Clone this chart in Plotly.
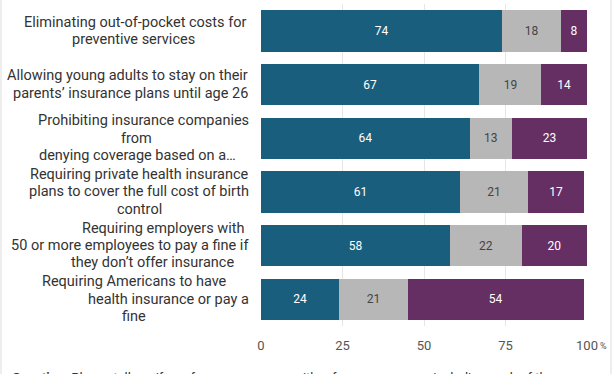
import plotly.graph_objects as go

categories = [
    "Eliminating out-of-pocket costs for<br>preventive services",
    "Allowing young adults to stay on their<br>parents’ insurance plans until age 26",
    "Prohibiting insurance companies<br>from<br>denying coverage based on a…",
    "Requiring private health insurance<br>plans to cover the full cost of birth<br>control",
    "Requiring employers with<br>50 or more employees to pay a fine if<br>they don’t offer insurance",
    "Requiring Americans to have<br>health insurance or pay a<br>fine",
]
favor = [74, 67, 64, 61, 58, 24]
neither = [18, 19, 13, 21, 22, 21]
oppose = [8, 14, 23, 17, 20, 54]
tick_vals = [0, 25, 50, 75, 100]
tick_text = ["0", "25", "50", "75", "100"]
footnote = "<b>Question:</b> Please tell me if you favor, oppose, or neither favor nor oppose including each of the"

# styling: horizontal pixel centre of each wrapped label line
line_centers = [
    [135, 133],
    [127, 130],
    [143, 136, 137],
    [139, 139, 139],
    [163, 130, 152],
    [134, 168, 134],
]

ids = list(range(len(categories)))
FONT = "Roboto"

fig = go.Figure()
series = [
    ("Favor", favor, "#1a5e7e", "#ffffff"),
    ("Neither", neither, "#b7b7b7", "#444444"),
    ("Oppose", oppose, "#662f63", "#ffffff"),
]
for name, vals, col, tcol in series:
    fig.add_trace(go.Bar(
        name=name, y=ids, x=vals, orientation="h",
        marker=dict(color=col, line=dict(width=0)),
        text=[str(v) for v in vals], textposition="inside",
        insidetextanchor="middle", textangle=0,
        textfont=dict(family=FONT, size=12, color=tcol),
        cliponaxis=False,
    ))

L, R, T, B = 261, 25, 4, 48
W, H = 612, 374
pw = W - L - R
ph = H - T - B
LINE_H = 17.2

annotations = []
for i, c in zip(ids, categories):
    lines = c.split("<br>")
    n = len(lines)
    for j, ln in enumerate(lines):
        annotations.append(dict(
            x=0, xref="paper", y=i, yref="y", xanchor="center", yanchor="middle",
            xshift=line_centers[i][j] - L,
            yshift=-(j - (n - 1) / 2) * LINE_H,
            text=ln, showarrow=False,
            font=dict(family=FONT, size=14.5, color="#333333"),
        ))
annotations.append(dict(
    x=100, xref="x", y=0, yref="paper", xanchor="left", yanchor="top",
    xshift=11, yshift=-13, text="%", showarrow=False,
    font=dict(family=FONT, size=9, color="#555555"),
))
annotations.append(dict(
    x=(10 - L) / pw, xref="paper", y=(ph - (368 - T)) / ph, yref="paper",
    xanchor="left", yanchor="top", text=footnote, showarrow=False,
    font=dict(family=FONT, size=13, color="#333333"),
))

shapes = []
for px in (1, 611):
    xp = (px - L) / pw
    shapes.append(dict(type="line", xref="paper", yref="paper",
                       x0=xp, x1=xp, y0=(ph + T) / ph, y1=-(B) / ph,
                       line=dict(color="#dddddd", width=1)))

fig.update_layout(
    barmode="stack", bargap=0.23,
    width=W, height=H,
    margin=dict(l=L, r=R, t=T, b=B, pad=0),
    plot_bgcolor="white", paper_bgcolor="white",
    showlegend=False,
    font=dict(family=FONT),
    xaxis=dict(range=[0, 100], tickvals=tick_vals, ticktext=tick_text,
               showgrid=True, gridcolor="#e6e6e6", gridwidth=1,
               zeroline=False, showline=False, ticks="",
               tickfont=dict(family=FONT, size=13, color="#555555"),
               ticklabelstandoff=10),
    yaxis=dict(range=[len(ids) - 0.5, -0.5], showticklabels=False,
               showgrid=False, zeroline=False, ticks=""),
    annotations=annotations,
    shapes=shapes,
)

fig.write_html(
    "out.html",
    config={"displayModeBar": False},
    post_script="document.body.style.margin='0';document.body.style.overflow='hidden';",
)
